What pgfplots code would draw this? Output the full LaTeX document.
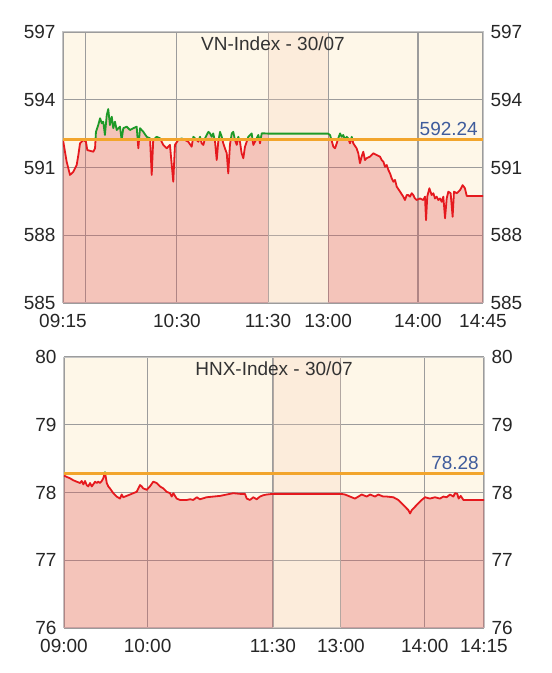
\documentclass[border=0pt]{standalone}
\usepackage{pgfplots}
\pgfplotsset{compat=1.18}
\usepackage{pgfplotstable}
\usepackage{fontspec}
\setmainfont{Liberation Sans}

\definecolor{cream}{HTML}{FEF7E8}
\definecolor{lunchtint}{RGB}{247,207,182}
\definecolor{pinktint}{RGB}{221,80,82}
\definecolor{upgreen}{HTML}{1E9A28}
\definecolor{downred}{HTML}{E5191E}
\definecolor{refline}{HTML}{F2A52C}
\definecolor{reftext}{HTML}{3F5C9C}
\definecolor{gridgray}{HTML}{9C9C9C}
\definecolor{framegray}{HTML}{C4C4C4}

% x = minutes after 09:00 (morning); afternoon shifted so that the lunch break is a narrow band
\pgfplotstableread{
x y
15 592.22
17.4 591.26
19.6 590.67
21.8 590.81
24.0 591.11
25.1 591.55
26.2 592.07
28.4 592.22
30.1 592.14
31.0 591.77
35.0 591.70
36.1 591.85
36.7 592.58
38.2 592.88
39.4 593.18
40.5 592.96
41.5 593.03
42.6 592.44
43.8 593.32
44.8 593.59
45.9 592.88
47.1 593.25
48.1 592.74
49.2 593.03
50.4 592.66
52.5 592.81
53.6 592.22
54.7 592.74
56.9 592.81
59.1 592.66
61.3 592.74
63.5 592.81
64.6 591.85
65.7 592.74
67.9 592.58
70.1 592.36
72.3 592.29
73.4 590.67
74.4 592.22
76.7 592.36
78.9 592.29
81.0 592.00
83.3 591.85
85.4 592.00
87.6 590.37
88.7 592.00
90.9 592.22
93.1 592.29
95.3 592.22
97.5 592.14
99.7 591.92
100.8 592.36
101.9 592.29
104.1 592.14
105.2 592.36
106.3 592.07
107.4 592.00
108.5 592.29
109.6 592.44
110.7 592.58
111.8 592.51
112.9 592.36
113.9 592.51
115.1 592.14
116.2 591.33
117.2 592.14
118.4 592.58
119.5 592.36
120.5 592.07
121.6 591.85
122.8 591.63
123.8 590.74
124.9 592.00
126.1 592.51
127.1 592.58
128.2 592.22
129.4 592.00
130.4 592.36
131.5 592.14
132.6 591.63
133.7 591.41
134.8 591.92
135.9 592.14
137.0 592.36
139.2 592.51
140.3 592.00
141.4 592.14
143.6 592.44
144.7 592.07
145.8 592.51
148.0 592.51
150 592.50
189.5 592.50
190.8 592.44
193.0 591.92
194.1 591.85
195.2 592.07
196.2 592.29
197.4 592.51
198.5 592.36
199.5 592.44
200.7 592.22
201.8 592.36
202.8 592.29
203.9 592.07
205.1 592.36
206.1 592.07
208.3 591.85
209.4 591.63
210.5 591.19
211.6 591.48
212.7 591.70
213.8 591.33
214.9 591.41
217.1 591.48
219.3 591.63
221.5 591.55
223.7 591.48
224.8 591.33
225.9 591.26
227.0 591.03
228.1 591.11
229.2 590.89
230.3 590.74
231.4 590.52
232.5 590.37
233.6 590.45
234.7 590.15
236.9 589.93
239.0 589.71
240.1 589.56
241.3 589.78
242.3 589.78
243.4 589.71
244.6 589.86
245.6 589.78
246.7 589.63
247.8 589.56
250.0 589.63
252.2 589.56
253.3 589.71
254.0 588.67
254.8 589.71
256.2 590.08
257.7 589.78
258.8 589.86
259.9 589.63
261.0 589.71
262.1 589.56
263.2 589.63
264.3 589.48
265.4 589.71
266.5 588.75
267.6 589.63
268.7 589.93
270.2 589.86
271.5 588.82
272.4 589.93
274.2 589.86
276.4 590.00
278.1 590.22
279.6 590.08
280.8 589.74
291.5 589.74
}\vn

\pgfplotstableread{
x y
0 78.25
1.9 78.23
4.3 78.21
6.7 78.18
9.1 78.16
11.5 78.14
12.7 78.17
13.9 78.12
15.1 78.17
16.3 78.11
17.4 78.09
18.7 78.14
19.9 78.09
21.0 78.12
22.3 78.16
23.5 78.14
24.6 78.16
25.8 78.14
27.1 78.17
28.2 78.21
29.4 78.30
30.7 78.14
31.8 78.09
33.0 78.06
35.4 77.99
37.8 77.94
40.2 77.91
41.4 77.97
42.6 77.93
45.0 77.95
47.4 77.97
49.7 77.99
52.2 78.01
54.6 78.11
55.8 78.09
56.9 78.06
59.4 78.04
61.7 78.09
64.1 78.16
66.5 78.14
68.9 78.09
71.3 78.06
73.7 78.01
76.1 77.99
77.3 77.94
78.5 77.99
80.9 77.91
83.3 77.89
88.1 77.89
90.5 77.90
92.8 77.89
95.3 77.93
97.6 77.90
102.4 77.93
107.2 77.94
112.0 77.95
116.8 77.97
121.5 77.99
126.3 77.98
129.9 77.98
131.2 77.91
133.5 77.89
135.9 77.93
138.3 77.90
140.7 77.94
143.1 77.96
145.5 77.97
150 77.98
198.8 77.98
201.7 77.97
205.3 77.94
208.9 77.91
211.3 77.94
213.7 77.97
217.3 77.94
219.7 77.97
223.3 77.94
225.6 77.97
229.2 77.94
231.7 77.94
236.4 77.93
240.0 77.89
242.4 77.84
244.8 77.79
247.2 77.74
248.4 77.69
249.6 77.74
252.0 77.79
254.3 77.84
256.8 77.89
259.2 77.93
262.7 77.91
266.3 77.93
269.9 77.91
272.3 77.94
274.7 77.93
277.1 77.97
279.5 77.94
280.7 77.99
282.3 77.98
283.3 77.91
284.8 77.95
286.7 77.89
301.5 77.89
}\hnx

\tikzset{
  ttl/.style={font=\fontsize{19}{22}\selectfont, text=black!80, anchor=north, inner sep=0pt, yshift=-5pt},
  reflbl/.style={font=\fontsize{19}{22}\selectfont, text=reftext, anchor=south east, inner sep=0pt, xshift=-5pt, yshift=4pt},
}

\pgfplotsset{
  board/.style={
    scale only axis, width=420pt, height=271pt, anchor=south west,
    axis background/.style={fill=cream},
    grid=major, major grid style={gridgray, line width=1.1pt},
    axis line style={framegray, line width=1pt},
    major tick length=0pt,
    tick label style={font=\fontsize{19}{22}\selectfont, text=black!85,
      /pgf/number format/assume math mode=true},
    yticklabel style={xshift=-4pt},
    xticklabel style={yshift=-8pt},
    yticklabel pos=left,
  },
  rightlabels/.style={
    scale only axis, width=420pt, height=271pt, anchor=south west,
    hide x axis, axis y line*=right, y axis line style={draw=none},
    major tick length=0pt,
    yticklabel style={font=\fontsize{19}{22}\selectfont, text=black!85, xshift=4pt,
      /pgf/number format/assume math mode=true},
  },
  pinkarea/.style={fill=pinktint, fill opacity=0.3, draw=none},
  lunchband/.style={fill=lunchtint, fill opacity=0.25, draw=none},
  pxline/.style={line width=1.8pt, line join=round},
}

\begin{document}
\begin{tikzpicture}[x=1pt,y=1pt]

% ---------- VN-Index ----------
\begin{axis}[board, at={(63pt,370pt)},
  xmin=15, xmax=291.5, ymin=585, ymax=597,
  ytick={585,588,591,594,597},
  xtick={15,30.1,90,150,189.5,248.7,291.5},
  xticklabels={09:15,,10:30,11:30,13:00,14:00,14:45}]
\addplot[pinkarea, restrict x to domain=15:150] table {\vn} \closedcycle;
\addplot[pinkarea, restrict x to domain=189.5:291.5] table {\vn} \closedcycle;
\addplot[lunchband] coordinates {(150,585) (189.5,585) (189.5,597) (150,597)} -- cycle;
\begin{scope}
\clip (axis cs:15,585) rectangle (axis cs:291.5,592.24);
\addplot[downred, pxline] table {\vn};
\end{scope}
\begin{scope}
\clip (axis cs:15,592.24) rectangle (axis cs:291.5,597);
\addplot[upgreen, pxline] table {\vn};
\end{scope}
\addplot[refline, line width=2.2pt] coordinates {(15,592.24) (291.5,592.24)};
\node[ttl] at (rel axis cs:0.5,1) {VN-Index - 30/07};
\node[reflbl] at (axis cs:291.5,592.24) {592.24};
\end{axis}
\begin{axis}[rightlabels, at={(63pt,370pt)},
  xmin=15, xmax=291.5, ymin=585, ymax=597, ytick={585,588,591,594,597}]
\addplot[draw=none] coordinates {(15,585)};
\end{axis}

% ---------- HNX-Index ----------
\begin{axis}[board, at={(64pt,45pt)},
  xmin=0, xmax=301.5, ymin=76, ymax=80,
  ytick={76,77,78,79,80},
  xtick={0,60,150,198.8,259,301.5},
  xticklabels={09:00,10:00,11:30,13:00,14:00,14:15}]
\addplot[pinkarea, restrict x to domain=0:150] table {\hnx} \closedcycle;
\addplot[pinkarea, restrict x to domain=198.8:301.5] table {\hnx} \closedcycle;
\addplot[lunchband] coordinates {(150,76) (198.8,76) (198.8,80) (150,80)} -- cycle;
\begin{scope}
\clip (axis cs:0,76) rectangle (axis cs:301.5,78.28);
\addplot[downred, pxline] table {\hnx};
\end{scope}
\begin{scope}
\clip (axis cs:0,78.28) rectangle (axis cs:301.5,80);
\addplot[upgreen, pxline] table {\hnx};
\end{scope}
\addplot[refline, line width=2.2pt] coordinates {(0,78.28) (301.5,78.28)};
\node[ttl] at (rel axis cs:0.5,1) {HNX-Index - 30/07};
\node[reflbl] at (axis cs:301.5,78.28) {78.28};
\end{axis}
\begin{axis}[rightlabels, at={(64pt,45pt)},
  xmin=0, xmax=301.5, ymin=76, ymax=80, ytick={76,77,78,79,80}]
\addplot[draw=none] coordinates {(0,76)};
\end{axis}

\path (0,0) rectangle (552,673);
\end{tikzpicture}
\end{document}
